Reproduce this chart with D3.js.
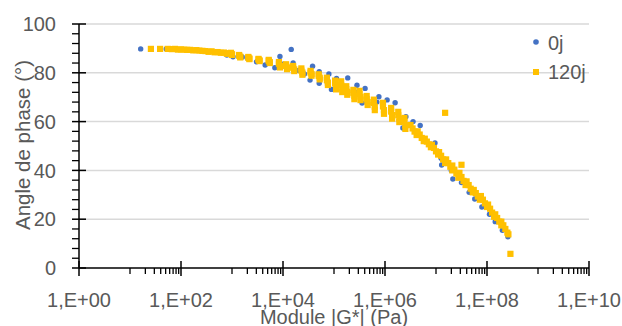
<!DOCTYPE html>
<html><head><meta charset="utf-8">
<script src="https://cdn.jsdelivr.net/npm/d3@7/dist/d3.min.js"></script>
<style>body{margin:0;background:#fff}svg{display:block}</style>
</head><body><svg id="c" width="622" height="326"></svg>
<script>
// ---- data ----
const seriesNames = ["0j", "120j"];
const seriesColors = ["#4472C4", "#FFC000"];
const xTickValues = [1e0, 1e2, 1e4, 1e6, 1e8, 1e10];
const xTickLabels = ["1,E+00", "1,E+02", "1,E+04", "1,E+06", "1,E+08", "1,E+10"];
const yTickValues = [0, 20, 40, 60, 80, 100];
const xTitle = "Module |G*| (Pa)";
const yTitle = "Angle de phase (°)";

// [ |G*| (Pa), phase angle (°) ]
const points0j = [
  [16.2,89.8],[51.3,89.8],[79.4,89.7],[126,89.5],[200,89.3],[316,89.0],[501,88.6],[794,88.0],
  [794,87.3],[1047,86.6],[1585,86.5],[2000,86.0],[3020,84.5],[4467,83.2],[5500,84.3],[6918,82.1],[8710,86.7],
  [1.00e4,83.5],[1.45e4,89.6],[1.58e4,84.0],[2.00e4,81.0],[2.63e4,79.5],[3.39e4,77.0],[3.80e4,82.7],
  [5.13e4,80.5],[5.13e4,75.7],[7.24e4,76.4],[7.94e4,79.5],[8.91e4,73.2],[1.12e5,77.7],[1.45e5,73.0],
  [1.86e5,77.9],[2.82e5,74.9],[2.95e5,72.0],[3.55e5,67.6],[4.07e5,73.6],[4.47e5,67.6],[6.92e5,68.0],
  [7.59e5,70.2],[1.10e6,68.9],[1.58e6,67.7],[2.24e6,57.4],[2.57e6,62.0],[3.55e6,60.0],[4.90e6,58.4],
  [6.31e6,52.0],[9.55e6,51.2],[1.26e7,45.0],[1.29e7,42.2],[2.00e7,40.0],[2.14e7,36.5],[3.16e7,35.0],
  [4.47e7,31.0],[5.75e7,28.3],[7.94e7,25.0],[1.12e8,22.0],[1.45e8,19.0],[2.00e8,15.5],[2.57e8,12.8]
];

const points120j = [
  [25.7,89.8],[38.9,89.8],[55.0,89.8],[66.1,89.7],[75.9,89.8],[87.1,89.5],[100,89.6],[115,89.5],
  [132,89.4],[151,89.4],[174,89.2],[200,89.3],[229,89.1],[263,89.0],[302,88.9],[347,88.6],[398,88.8],
  [457,88.4],[525,88.5],[603,88.2],[692,88.3],[794,87.8],[871,88.0],
  [955,88.2],[955,87.9],[1000,87.6],[1000,87.3],
  [1380,87.3],[1380,87.0],[1450,86.6],[1450,86.3],
  [2090,86.5],[2090,86.2],[2190,85.9],[2190,85.6],
  [3310,85.7],[3310,85.4],[3470,85.1],[3470,84.8],
  [5250,85.3],[5250,84.9],[5500,84.4],[5500,84.0],
  [8320,84.4],[8320,83.7],[8710,82.9],[8710,82.2],
  [1.15e4,83.5],[1.15e4,82.8],[1.20e4,82.2],[1.20e4,81.5],
  [1.58e4,82.8],[1.58e4,82.1],[1.66e4,81.4],[1.66e4,80.7],
  [2.29e4,81.8],[2.29e4,80.9],[2.40e4,80.1],[2.40e4,79.2],
  [3.47e4,80.8],[3.47e4,80.1],[3.63e4,79.5],[3.63e4,78.8],
  [5.01e4,79.4],[5.01e4,78.7],[5.25e4,78.0],[5.25e4,77.3],
  [7.24e4,78.0],[7.24e4,77.0],[7.59e4,76.0],[7.59e4,75.0],
  [1.05e5,76.8],[1.05e5,75.6],[1.10e5,74.4],[1.10e5,73.2],
  [1.38e5,76.5],[1.38e5,75.0],[1.45e5,73.6],[1.45e5,72.1],
  [1.74e5,74.5],[1.74e5,73.3],[1.82e5,72.2],[1.82e5,71.0],
  [2.40e5,73.0],[2.40e5,71.7],[2.51e5,70.5],[2.51e5,69.2],
  [3.16e5,72.6],[3.16e5,71.3],[3.31e5,70.1],[3.31e5,68.8],
  [4.37e5,70.5],[4.37e5,69.3],[4.57e5,68.0],[4.57e5,66.8],
  [6.03e5,69.0],[6.03e5,67.6],[6.31e5,66.1],[6.31e5,64.7],
  [9.12e5,67.7],[9.12e5,66.2],[9.55e5,64.7],[9.55e5,63.2],
  [1.32e6,65.6],[1.32e6,64.1],[1.38e6,62.7],[1.38e6,61.2],
  [1.82e6,64.0],[1.82e6,62.6],[1.91e6,61.2],[1.91e6,59.8],
  [2.40e6,61.5],[2.40e6,60.0],[2.51e6,58.5],[2.51e6,57.0],
  [3.16e6,58.6],[3.47e6,57.2],[3.80e6,55.9],[4.17e6,54.5],
  [4.37e6,56.0],[4.79e6,54.7],[5.25e6,53.3],[5.75e6,52.0],
  [6.03e6,53.0],[6.61e6,51.8],[7.24e6,50.7],[7.94e6,49.5],
  [8.32e6,50.5],[9.12e6,49.2],[1.00e7,47.8],[1.10e7,46.5],
  [1.15e7,47.5],[1.26e7,46.0],[1.38e7,44.5],[1.51e7,43.0],
  [1.58e7,44.5],[1.74e7,43.0],[1.91e7,41.5],[2.09e7,40.0],
  [2.09e7,42.0],[2.29e7,40.3],[2.51e7,38.7],[2.75e7,37.0],
  [2.88e7,39.0],[3.16e7,37.3],[3.47e7,35.7],[3.80e7,34.0],
  [3.98e7,35.5],[4.37e7,34.0],[4.79e7,32.5],[5.25e7,31.0],
  [5.50e7,32.0],[6.03e7,30.7],[6.61e7,29.3],[7.24e7,28.0],
  [7.59e7,29.5],[8.32e7,28.0],[9.12e7,26.5],[1.00e8,25.0],
  [1.05e8,26.0],[1.15e8,24.3],[1.26e8,22.7],[1.38e8,21.0],
  [1.45e8,22.0],[1.58e8,20.5],[1.74e8,19.0],[1.91e8,17.5],
  [1.91e8,19.0],[2.09e8,17.5],[2.29e8,16.0],[2.51e8,14.5],
  [2.63e8,13.8],
  [1.51e7,63.6],[3.16e7,42.3],[2.88e8,5.8]
];

// ---- drawing ----
const svg = d3.select("#c");
const font = "'Liberation Sans', Arial, sans-serif";
const grey = "#595959";
const x = d3.scaleLog().domain([1e0, 1e10]).range([79, 589]);
const y = d3.scaleLinear().domain([0, 100]).range([268, 24]);

// gridlines
svg.append("g").selectAll("line").data(yTickValues.filter(v => v > 0)).join("line")
  .attr("x1", x(1e0)).attr("x2", x(1e10))
  .attr("y1", d => y(d)).attr("y2", d => y(d))
  .attr("stroke", "#d9d9d9").attr("stroke-width", 1.5);

// points
const gp = svg.append("g");
gp.selectAll("circle").data(points0j).join("circle")
  .attr("cx", d => x(d[0])).attr("cy", d => y(d[1])).attr("r", 2.7)
  .attr("fill", seriesColors[0]);
const sq = 6.2;
gp.selectAll("rect").data(points120j).join("rect")
  .attr("x", d => x(d[0]) - sq / 2).attr("y", d => y(d[1]) - sq / 2)
  .attr("width", sq).attr("height", sq).attr("fill", seriesColors[1]);

// axes
const ax = svg.append("g").attr("stroke", "#000");
ax.append("line").attr("x1", x(1e0)).attr("x2", x(1e10)).attr("y1", y(0)).attr("y2", y(0)).attr("stroke-width", 1.5);
ax.append("line").attr("x1", x(1e0)).attr("x2", x(1e0)).attr("y1", y(0)).attr("y2", y(100)).attr("stroke-width", 1.5);

// y ticks
const yMinor = d3.range(0, 101, 4).filter(v => v % 20 !== 0);
ax.append("g").selectAll("line").data(yMinor).join("line")
  .attr("x1", x(1e0) - 7).attr("x2", x(1e0)).attr("y1", d => y(d)).attr("y2", d => y(d)).attr("stroke-width", 1.3);
ax.append("g").selectAll("line").data(yTickValues).join("line")
  .attr("x1", x(1e0) - 7).attr("x2", x(1e0) + 7).attr("y1", d => y(d)).attr("y2", d => y(d)).attr("stroke-width", 1.5);

// x ticks
const xMinor = [];
for (let k = 0; k < 5; k++) for (let m = 1; m <= 9; m++) xMinor.push(m * Math.pow(10, 2 * k + 1));
ax.append("g").selectAll("line").data(xMinor).join("line")
  .attr("x1", d => x(d)).attr("x2", d => x(d)).attr("y1", y(0)).attr("y2", y(0) + 6).attr("stroke-width", 1.3);
ax.append("g").selectAll("line").data(xTickValues).join("line")
  .attr("x1", d => x(d)).attr("x2", d => x(d)).attr("y1", y(0) - 7).attr("y2", y(0) + 8).attr("stroke-width", 1.5);

// tick labels
svg.append("g").selectAll("text").data(yTickValues).join("text")
  .attr("x", 56).attr("y", d => y(d)).attr("dy", "0.36em")
  .attr("text-anchor", "end").attr("font-family", font).attr("font-size", 20).attr("fill", grey)
  .text(d => d);
svg.append("g").selectAll("text").data(xTickValues).join("text")
  .attr("x", d => x(d)).attr("y", 307)
  .attr("text-anchor", "middle").attr("font-family", font).attr("font-size", 20).attr("fill", grey)
  .text((d, i) => xTickLabels[i]);

// titles
svg.append("text").attr("x", 334).attr("y", 324).attr("text-anchor", "middle")
  .attr("font-family", font).attr("font-size", 20).attr("fill", grey).text(xTitle);
svg.append("text").attr("transform", "translate(30,145) rotate(-90)").attr("text-anchor", "middle")
  .attr("font-family", font).attr("font-size", 20.5).attr("fill", grey).text(yTitle);

// legend
const lg = svg.append("g");
lg.append("circle").attr("cx", 536).attr("cy", 42).attr("r", 2.8).attr("fill", seriesColors[0]);
lg.append("rect").attr("x", 533).attr("y", 69).attr("width", 6).attr("height", 6).attr("fill", seriesColors[1]);
lg.selectAll("text").data(seriesNames).join("text")
  .attr("x", 548).attr("y", (d, i) => i === 0 ? 50 : 79)
  .attr("font-family", font).attr("font-size", 20).attr("fill", grey).text(d => d);
</script></body></html>
